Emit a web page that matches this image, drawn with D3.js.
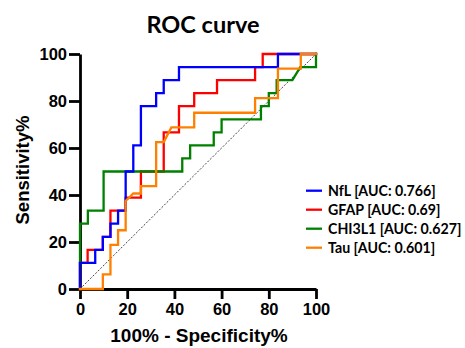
<!DOCTYPE html>
<html>
<head>
<meta charset="utf-8">
<script src="https://cdn.jsdelivr.net/npm/d3@7"></script>
<style>
  html, body { margin: 0; padding: 0; background: #fff; }
  svg { display: block; }
</style>
</head>
<body>
<svg id="chart" width="465" height="348"></svg>
<script>
// ---- Data ----
const title = "ROC curve";
const xTitle = "100% - Specificity%";
const yTitle = "Sensitivity%";
const tickValues = [0, 20, 40, 60, 80, 100];
const seriesNames = ["NfL [AUC: 0.766]", "GFAP [AUC: 0.69]", "CHI3L1 [AUC: 0.627]", "Tau [AUC: 0.601]"];
const seriesColors = ["#0000ff", "#ff0000", "#008000", "#ff8000"];

// NfL (100% - Specificity%, Sensitivity%)
const nflX = [0, 0, 6.45, 6.45, 9.68, 9.68, 12.9, 12.9, 16.13, 16.13, 19.35, 19.35, 22.58, 22.58, 25.81, 25.81, 32.26, 32.26, 35.48, 35.48, 41.94, 41.94, 83.87, 83.87, 100];
const nflY = [0, 11.11, 11.11, 16.67, 16.67, 22.22, 22.22, 27.78, 27.78, 33.33, 33.33, 50, 50, 61.11, 61.11, 77.78, 77.78, 83.33, 83.33, 88.89, 88.89, 94.44, 94.44, 100, 100];

// GFAP
const gfapX = [0, 0, 3.23, 3.23, 9.68, 9.68, 12.9, 12.9, 19.35, 19.35, 25.81, 25.81, 35.48, 35.48, 41.94, 41.94, 48.39, 48.39, 58.06, 58.06, 74.19, 74.19, 77.42, 77.42, 100];
const gfapY = [0, 11.11, 11.11, 16.67, 16.67, 22.22, 22.22, 33.33, 33.33, 38.89, 38.89, 50, 50, 66.67, 66.67, 77.78, 77.78, 83.33, 83.33, 88.89, 88.89, 94.44, 94.44, 100, 100];

// CHI3L1
const chiX = [0, 0, 3.33, 3.33, 10, 10, 43.33, 43.33, 46.67, 46.67, 56.67, 56.67, 60, 60, 76.67, 76.67, 80, 80, 83.33, 83.33, 90, 93.33, 100, 100];
const chiY = [0, 27.78, 27.78, 33.33, 33.33, 50, 50, 55.56, 55.56, 61.11, 61.11, 66.67, 66.67, 72.22, 72.22, 77.78, 77.78, 83.33, 83.33, 88.89, 88.89, 94.44, 94.44, 100];

// Tau
const tauX = [0, 9.68, 9.68, 12.9, 12.9, 16.13, 16.13, 19.35, 19.35, 22.58, 25.81, 25.81, 32.26, 32.26, 35.48, 38.71, 48.39, 48.39, 74.19, 74.19, 83.87, 83.87, 93.55, 93.55, 100];
const tauY = [0, 0, 6.25, 6.25, 18.75, 18.75, 25, 25, 37.5, 40.63, 40.63, 43.75, 43.75, 62.5, 62.5, 68.75, 68.75, 75, 75, 81.25, 81.25, 93.75, 93.75, 100, 100];

// ---- Drawing ----
const svg = d3.select("#chart");
svg.append("rect").attr("width", 465).attr("height", 348).attr("fill", "#fff");

const x = d3.scaleLinear().domain([0, 100]).range([80, 316]);
const y = d3.scaleLinear().domain([0, 100]).range([289, 54]);

const axisFont = "'Liberation Sans', Arial, sans-serif";
const labelFont = "Lato, 'Open Sans', sans-serif";

// axes
const gx = svg.append("g").attr("transform", `translate(0,${y(0)})`)
  .call(d3.axisBottom(x).tickValues(tickValues).tickSize(10).tickSizeOuter(0).tickPadding(4));
const gy = svg.append("g").attr("transform", `translate(${x(0)},0)`)
  .call(d3.axisLeft(y).tickValues(tickValues).tickSize(11).tickSizeOuter(0).tickPadding(2));
[gx, gy].forEach(g => {
  g.select(".domain").attr("stroke", "#000").attr("stroke-width", 2.8);
  g.selectAll(".tick line").attr("stroke", "#000").attr("stroke-width", 2.8);
  g.selectAll(".tick text").attr("fill", "#000")
    .style("font-family", axisFont).style("font-weight", "bold").style("font-size", "16.5px");
});
gy.selectAll(".tick text").attr("dy", "0.36em");

// diagonal reference line
svg.append("line")
  .attr("x1", x(0)).attr("y1", y(0)).attr("x2", x(100)).attr("y2", y(100))
  .attr("stroke", "#444").attr("stroke-width", 1).attr("stroke-dasharray", "2,1.6");

// series (drawing order: GFAP, CHI3L1, NfL, Tau on top)
const series = [
  { xs: gfapX, ys: gfapY, color: seriesColors[1] },
  { xs: chiX, ys: chiY, color: seriesColors[2] },
  { xs: nflX, ys: nflY, color: seriesColors[0] },
  { xs: tauX, ys: tauY, color: seriesColors[3] }
];
const line = d3.line().x(d => x(d[0])).y(d => y(d[1]));
series.forEach(s => {
  const pts = s.xs.map((v, i) => [v, s.ys[i]]);
  svg.append("path").datum(pts)
    .attr("d", line).attr("fill", "none")
    .attr("stroke", s.color).attr("stroke-width", 2.3)
    .attr("stroke-linejoin", "miter").attr("stroke-linecap", "square");
});

// title
svg.append("text").attr("x", 203).attr("y", 33).attr("text-anchor", "middle")
  .style("font-family", labelFont).style("font-weight", "bold").style("font-size", "23.5px")
  .text(title);

// axis titles
svg.append("text").attr("x", 199).attr("y", 342).attr("text-anchor", "middle")
  .style("font-family", axisFont).style("font-weight", "bold").style("font-size", "19px")
  .text(xTitle);
svg.append("text").attr("transform", "translate(29,170) rotate(-90)").attr("text-anchor", "middle")
  .style("font-family", axisFont).style("font-weight", "bold").style("font-size", "18.5px")
  .text(yTitle);

// legend
const legend = svg.append("g");
seriesNames.forEach((name, i) => {
  const ly = 190.7 + i * 19;
  legend.append("line").attr("x1", 306).attr("x2", 322).attr("y1", ly).attr("y2", ly)
    .attr("stroke", seriesColors[i]).attr("stroke-width", 2.3);
  legend.append("text").attr("x", 328).attr("y", ly + 5.3)
    .style("font-family", labelFont).style("font-weight", "bold").style("font-size", "14.2px")
    .text(name);
});
</script>
</body>
</html>
